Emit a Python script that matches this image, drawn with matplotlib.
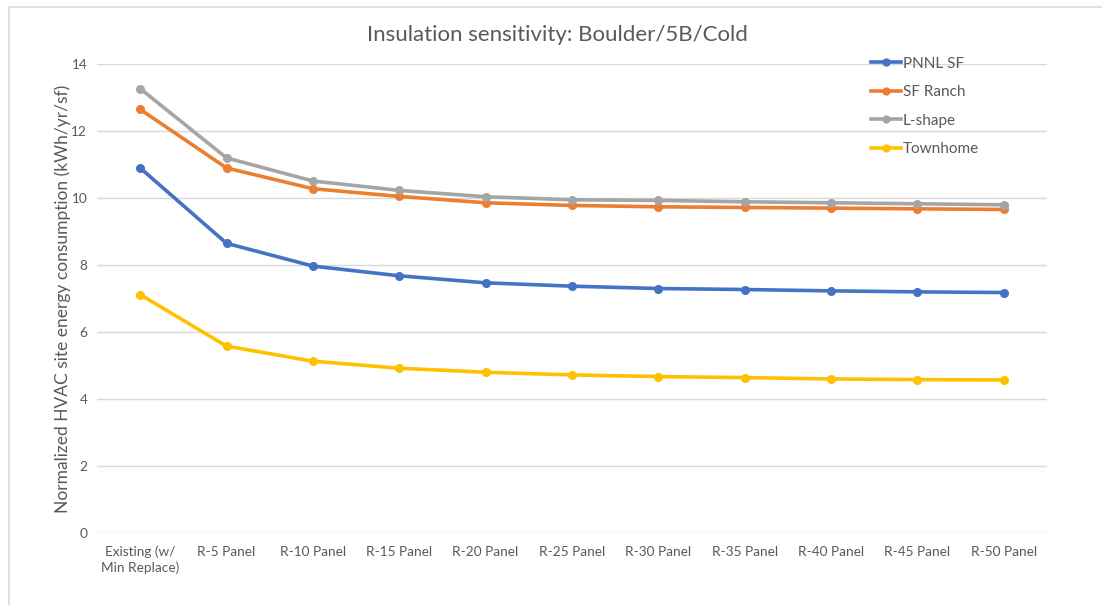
import matplotlib.pyplot as plt
import numpy as np

plt.rcParams['font.family'] = ['Lato', 'DejaVu Sans']

categories = ['Existing (w/\nMin Replace)', 'R-5 Panel', 'R-10 Panel', 'R-15 Panel',
              'R-20 Panel', 'R-25 Panel', 'R-30 Panel', 'R-35 Panel',
              'R-40 Panel', 'R-45 Panel', 'R-50 Panel']

pnnl_sf = [10.9, 8.65, 7.97, 7.68, 7.47, 7.37, 7.30, 7.27, 7.23, 7.20, 7.18]
sf_ranch = [12.65, 10.9, 10.28, 10.05, 9.86, 9.78, 9.74, 9.72, 9.70, 9.68, 9.66]
l_shape = [13.27, 11.2, 10.51, 10.23, 10.04, 9.95, 9.93, 9.89, 9.86, 9.83, 9.80]
townhome = [7.12, 5.58, 5.13, 4.92, 4.80, 4.72, 4.67, 4.64, 4.60, 4.58, 4.57]

series = [
    ('PNNL SF', pnnl_sf, '#4472C4'),
    ('SF Ranch', sf_ranch, '#ED7D31'),
    ('L-shape', l_shape, '#A5A5A5'),
    ('Townhome', townhome, '#FFC000'),
]

text_col = '#595959'

fig = plt.figure(figsize=(11.02, 6.05), dpi=100)
ax = fig.add_axes([0.088, 0.119, 0.862, 0.775])

# light chart-area border (left/top visible, runs off the right and bottom)
fig.patches.append(plt.Rectangle((0.008, -0.05), 1.1, 1.038, transform=fig.transFigure,
                                 fill=False, edgecolor='#D9D9D9', lw=1.2))

x = np.arange(len(categories))
for name, vals, col in series:
    ax.plot(x, vals, color=col, lw=2.6, marker='o', ms=5.5, label=name)

ax.set_xlim(-0.5, len(categories) - 0.5)
ax.set_ylim(0, 14)
ax.set_yticks(np.arange(0, 15, 2))
ax.set_xticks(x)
ax.set_xticklabels(categories, linespacing=1.3)
ax.grid(axis='y', color='#D9D9D9', lw=1)
ax.set_axisbelow(True)
for s in ax.spines.values():
    s.set_visible(False)
ax.tick_params(axis='both', length=0, colors=text_col, labelsize=9.8)
ax.tick_params(axis='y', pad=7)
ax.tick_params(axis='x', pad=9)

ax.set_ylabel('Normalized HVAC site energy consumption (kWh/yr/sf)',
              color=text_col, fontsize=12.5, labelpad=0.5)
fig.text(0.506, 0.942, 'Insulation sensitivity: Boulder/5B/Cold',
         ha='center', va='center', fontsize=16, color=text_col)

leg = ax.legend(loc='upper left', bbox_to_anchor=(0.8, 1.045), frameon=False,
                fontsize=11, labelcolor=text_col, handlelength=2.0,
                handletextpad=0.1, labelspacing=0.95, markerscale=0.9)

fig.savefig('out.png', dpi=100)
